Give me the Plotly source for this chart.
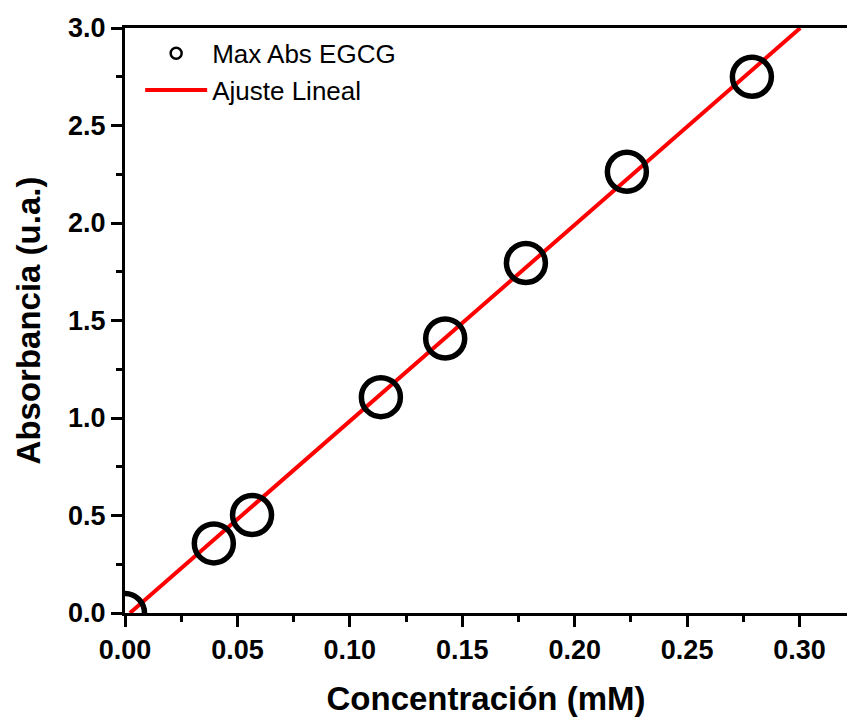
import plotly.graph_objects as go

# Data
conc = [0.0, 0.0395, 0.0565, 0.1138, 0.1424, 0.1783, 0.2232, 0.2788]
absorb = [0.0, 0.357, 0.503, 1.107, 1.408, 1.795, 2.263, 2.750]
fit_x = [0.0022, 0.3003]
fit_y = [0.0, 3.0]

x_ticks = [0.00, 0.05, 0.10, 0.15, 0.20, 0.25, 0.30]
y_ticks = [0.0, 0.5, 1.0, 1.5, 2.0, 2.5, 3.0]

FONT = "Liberation Sans, Arial, sans-serif"

fig = go.Figure()

fig.add_trace(go.Scatter(
    x=fit_x, y=fit_y, mode="lines", name="Ajuste Lineal",
    line=dict(color="#ff0000", width=4), showlegend=False,
))
fig.add_trace(go.Scatter(
    x=conc, y=absorb, mode="markers", name="Max Abs EGCG",
    marker=dict(symbol="circle-open", size=39, color="black",
                line=dict(color="black", width=5.5)),
    showlegend=False, cliponaxis=True,
))
# legend entries
fig.add_trace(go.Scatter(
    x=[None], y=[None], mode="markers", name="Max Abs EGCG",
    marker=dict(symbol="circle-open", size=11, color="black",
                line=dict(color="black", width=2.5)),
))
fig.add_trace(go.Scatter(
    x=[None], y=[None], mode="lines", name="Ajuste Lineal",
    line=dict(color="#ff0000", width=4),
))

axis_common = dict(
    showgrid=False, zeroline=False, showline=True, linecolor="black",
    linewidth=3, ticks="outside", ticklen=11, tickwidth=3, tickcolor="black",
    tickfont=dict(family=FONT, size=27, color="black", weight="bold"),
)

fig.update_xaxes(
    range=[0, 0.3211], tickvals=x_ticks,
    ticktext=[f"{v:.2f}" for v in x_ticks],
    minor=dict(dtick=0.025, tick0=0, ticks="outside", ticklen=6,
               tickwidth=3, tickcolor="black"),
    mirror=True,
    title=dict(text="Concentración (mM)",
               font=dict(family=FONT, size=33, color="black", weight="bold"),
               standoff=26),
    **axis_common,
)
fig.update_yaxes(
    range=[0, 3.0], tickvals=y_ticks,
    ticktext=[f"{v:.1f}" for v in y_ticks],
    minor=dict(dtick=0.25, tick0=0, ticks="outside", ticklen=6,
               tickwidth=3, tickcolor="black"),
    title=dict(text="Absorbancia (u.a.)",
               font=dict(family=FONT, size=33, color="black", weight="bold"),
               standoff=18),
    **axis_common,
)

fig.update_layout(
    width=847, height=717,
    margin=dict(l=125, r=0, t=28, b=104, autoexpand=False),
    plot_bgcolor="white", paper_bgcolor="white",
    legend=dict(x=0.021, y=0.997, xanchor="left", yanchor="top",
                bgcolor="rgba(0,0,0,0)",
                font=dict(family=FONT, size=26, color="black"),
                tracegroupgap=0, itemsizing="trace", itemwidth=62),
)

fig.write_html(
    "out.html",
    config={"displayModeBar": False},
    post_script="document.body.style.margin='0';document.body.style.overflow='hidden';",
)
